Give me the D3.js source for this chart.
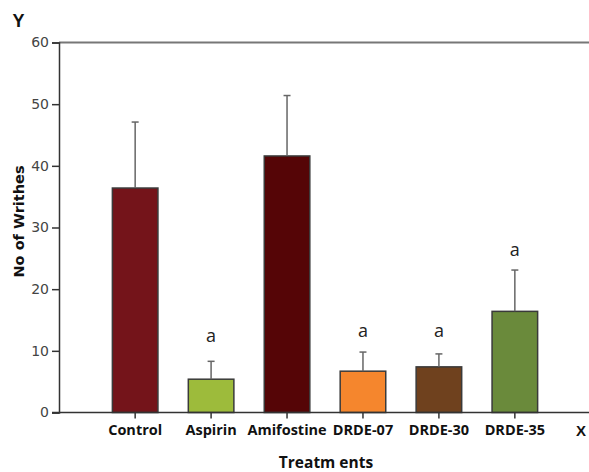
<!DOCTYPE html>
<html>
<head>
<meta charset="utf-8">
<script src="https://cdn.jsdelivr.net/npm/d3@7"></script>
<style>
  body { margin: 0; background: #fff; }
  svg { display: block; }
</style>
</head>
<body>
<svg></svg>
<script>
// chart data
const categories = ['Control', 'Aspirin', 'Amifostine', 'DRDE-07', 'DRDE-30', 'DRDE-35']
const means = [36.4, 5.4, 41.6, 6.7, 7.4, 16.4]
const errors = [10.7, 2.9, 9.8, 3.1, 2.1, 6.7]
const marks = ['', 'a', '', 'a', 'a', 'a']
const markLevels = [0, 11.5, 0, 12.3, 12.3, 25.3]
const yTicks = [0, 10, 20, 30, 40, 50, 60]
const colors = ['#74141a', '#9dbb3b', '#550506', '#f5862d', '#6f411e', '#6a8a3b']

// canvas sizes
const width = 589
const height = 472
const plotLeft = 59
const plotTop = 42.5
const plotBottom = 412.5

const svg = d3.select('svg')
  .attr('width', width)
  .attr('height', height)

const yScale = d3.scaleLinear()
  .domain([0, 60])
  .range([plotBottom, plotTop])

const xScale = d3.scaleBand()
  .domain(categories)
  .range([82, 568])
  .padding(0.4)

// top frame line
svg.append('line')
  .attr('x1', plotLeft).attr('x2', width)
  .attr('y1', plotTop).attr('y2', plotTop)
  .attr('stroke', '#777')
  .attr('stroke-width', 2)

// y axis
const yAxis = d3.axisLeft(yScale)
  .tickValues(yTicks)
  .tickSize(7)
  .tickPadding(3)
const gy = svg.append('g')
  .attr('transform', 'translate(' + plotLeft + ',0)')
  .call(yAxis)
gy.select('.domain').attr('stroke', '#333').attr('stroke-width', 1.5)
gy.selectAll('.tick line').attr('stroke', '#333').attr('stroke-width', 1.5)
gy.selectAll('.tick text')
  .attr('fill', '#444')
  .style('font-family', 'DejaVu Sans')
  .style('font-size', '14px')

// bars
svg.selectAll('rect.bar')
  .data(categories)
  .enter()
  .append('rect')
  .attr('class', 'bar')
  .attr('x', (d) => xScale(d))
  .attr('width', xScale.bandwidth())
  .attr('y', (d, i) => yScale(means[i]))
  .attr('height', (d, i) => yScale(0) - yScale(means[i]))
  .attr('fill', (d, i) => colors[i])
  .attr('stroke', '#3a3a3a')
  .attr('stroke-width', 1.5)

// error bars
const cx = (d) => xScale(d) + xScale.bandwidth() / 2
const err = svg.append('g').attr('stroke', '#666').attr('stroke-width', 1.5)
err.selectAll('line.stem')
  .data(categories)
  .enter()
  .append('line')
  .attr('x1', cx).attr('x2', cx)
  .attr('y1', (d, i) => yScale(means[i]))
  .attr('y2', (d, i) => yScale(means[i] + errors[i]))
err.selectAll('line.cap')
  .data(categories)
  .enter()
  .append('line')
  .attr('x1', (d) => cx(d) - 3.5).attr('x2', (d) => cx(d) + 3.5)
  .attr('y1', (d, i) => yScale(means[i] + errors[i]))
  .attr('y2', (d, i) => yScale(means[i] + errors[i]))

// x axis
const xAxis = d3.axisBottom(xScale).tickSize(6).tickPadding(6)
const gx = svg.append('g')
  .attr('transform', 'translate(0,' + plotBottom + ')')
  .call(xAxis)
gx.select('.domain').remove()
gx.append('line')
  .attr('x1', 52).attr('x2', width)
  .attr('stroke', '#333').attr('stroke-width', 1.5)
gx.selectAll('.tick line').attr('stroke', '#333').attr('stroke-width', 1.5)
gx.selectAll('.tick text')
  .attr('fill', '#111')
  .style('font-family', 'Open Sans')
  .style('font-weight', 'bold')
  .style('font-size', '14.5px')

// significance letters
svg.selectAll('text.mark')
  .data(categories)
  .enter()
  .append('text')
  .attr('class', 'mark')
  .attr('x', cx)
  .attr('y', (d, i) => yScale(markLevels[i]))
  .attr('text-anchor', 'middle')
  .style('font-family', 'Open Sans')
  .style('font-size', '18px')
  .attr('fill', '#222')
  .text((d, i) => marks[i])

// axis titles
svg.append('text')
  .attr('transform', 'translate(23.5,221.5) rotate(-90)')
  .attr('text-anchor', 'middle')
  .style('font-family', 'DejaVu Sans')
  .style('font-weight', 'bold')
  .style('font-size', '14.5px')
  .attr('fill', '#111')
  .text('No of Writhes')

svg.append('text')
  .attr('x', 326).attr('y', 468)
  .attr('text-anchor', 'middle')
  .style('font-family', 'Open Sans')
  .style('font-weight', 'bold')
  .style('font-size', '15.5px')
  .attr('fill', '#111')
  .text('Treatm ents')

svg.append('text')
  .attr('x', 12.5).attr('y', 27)
  .style('font-family', 'Liberation Sans')
  .style('font-weight', 'bold')
  .style('font-size', '18px')
  .attr('fill', '#111')
  .text('Y')

svg.append('text')
  .attr('x', 576).attr('y', 436)
  .style('font-family', 'Liberation Sans')
  .style('font-weight', 'bold')
  .style('font-size', '15px')
  .attr('fill', '#111')
  .text('X')
</script>
</body>
</html>
